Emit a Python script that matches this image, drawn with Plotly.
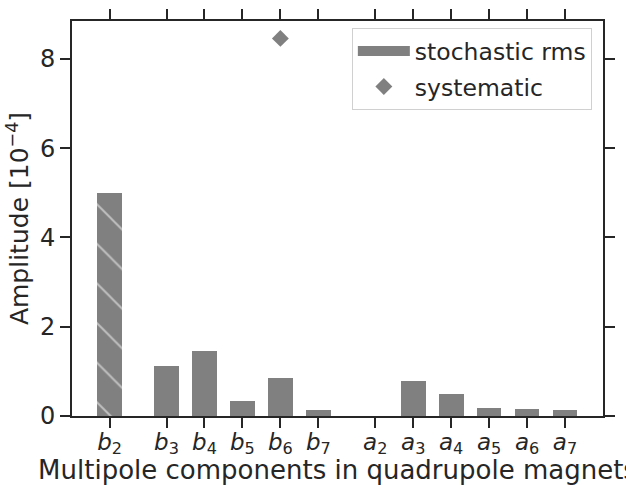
import plotly.graph_objects as go

labels = ["<i>b</i><sub>2</sub>", "<i>b</i><sub>3</sub>", "<i>b</i><sub>4</sub>", "<i>b</i><sub>5</sub>",
          "<i>b</i><sub>6</sub>", "<i>b</i><sub>7</sub>", "<i>a</i><sub>2</sub>", "<i>a</i><sub>3</sub>",
          "<i>a</i><sub>4</sub>", "<i>a</i><sub>5</sub>", "<i>a</i><sub>6</sub>", "<i>a</i><sub>7</sub>"]
positions = [0, 1.5, 2.5, 3.5, 4.5, 5.5, 7, 8, 9, 10, 11, 12]
stochastic = [4.99, 1.13, 1.45, 0.34, 0.85, 0.14, 0.0, 0.79, 0.49, 0.19, 0.16, 0.13]
hatched = [True] + [False] * 11
sys_pos = [4.5]
systematic = [8.46]

gray = "#808080"
ink = "#262626"
fig = go.Figure()
fig.add_trace(go.Bar(
    x=positions, y=stochastic, width=0.65, name="stochastic rms", showlegend=False,
    marker=dict(color=gray, line=dict(width=0),
                pattern=dict(shape=["\\" if h else "" for h in hatched],
                             fgcolor="white", bgcolor=gray, size=28, solidity=0.07)),
))
# legend entry for the bars (wide rectangle like the reference)
fig.add_trace(go.Scatter(
    x=[None], y=[None], mode="lines", name="stochastic rms", legendgroup="a",
    line=dict(color=gray, width=14),
))
fig.add_trace(go.Scatter(
    x=sys_pos, y=systematic, mode="markers", name="systematic", legendgroup="b",
    marker=dict(symbol="diamond", color=gray, size=13),
))

fig.update_layout(
    width=626, height=485,
    margin=dict(l=72, r=23, t=21, b=69),
    plot_bgcolor="white", paper_bgcolor="white",
    font=dict(family="DejaVu Sans", size=24, color=ink),
    showlegend=True,
    legend=dict(x=0.979, y=0.982, xanchor="right", yanchor="top",
                bgcolor="white", bordercolor="#d0d0d0", borderwidth=1,
                font=dict(size=23.5), traceorder="grouped", tracegroupgap=2,
                itemwidth=52),
    bargap=0,
)
axis_common = dict(
    showline=True, linecolor=ink, linewidth=2, mirror="ticks",
    ticks="outside", ticklen=10, tickwidth=2, tickcolor=ink,
    showgrid=False, zeroline=False, automargin=False,
)
fig.update_xaxes(
    range=[-0.99, 13], tickvals=positions, ticktext=labels,
    tickfont=dict(size=23), ticklabelstandoff=-6,
    title=dict(text="Multipole components in quadrupole magnets", font=dict(size=26), standoff=0),
    **axis_common,
)
fig.update_yaxes(
    range=[0, 8.85], tickvals=[0, 2, 4, 6, 8],
    tickfont=dict(size=24),
    title=dict(text="Amplitude [10<sup>−4</sup>]", font=dict(size=25), standoff=4),
    **axis_common,
)
fig.write_html("out.html", config={"displayModeBar": False},
               post_script="document.body.style.margin='0px';")
